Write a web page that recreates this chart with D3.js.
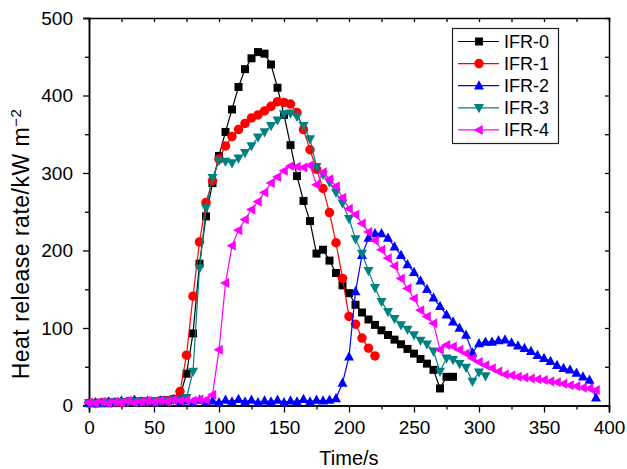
<!DOCTYPE html>
<html>
<head>
<meta charset="utf-8">
<script src="https://cdn.jsdelivr.net/npm/d3@7/dist/d3.min.js"></script>
<style>
html,body{margin:0;padding:0;background:#fff;}
svg{display:block;font-family:"Liberation Sans",Arial,sans-serif;}
</style>
</head>
<body>
<svg id="chart" width="627" height="469"></svg>
<script>
const seriesNames = ["IFR-0","IFR-1","IFR-2","IFR-3","IFR-4"];
const seriesColors = ["#000000","#ff0000","#0000ff","#008080","#ff00ff"];
const seriesSymbols = ["square","circle","triUp","triDown","triLeft"];

const t0 = [0,5,10,15,20,25,30,35,40,45,50,55,60,65,70,75,80,85,90,95,100,105,110,115,120,125,130,135,140,145,150,155,160,165,170,175,180,185,190,195,200,205,210,215,220,225,230,235,240,245,250,255,260,265,270,275,280];
const v0 = [3,3,3,3,4,4,4,5,5,5,5,6,7,8,12,41,93,183,244,287,322,353,382,411,434,448,456,454,440,410,375,336,296,264,238,196,201,187,171,155,145,130,120,111,104,97,91,85,79,73,67,60,54,46,22,37,37];

const t1 = [0,5,10,15,20,25,30,35,40,45,50,55,60,65,70,75,80,85,90,95,100,105,110,115,120,125,130,135,140,145,150,155,160,165,170,175,180,185,190,195,200,205,210,215,220];
const v1 = [3,3,4,4,4,4,5,5,5,5,5,6,6,8,18,65,141,211,262,290,318,335,347,356,364,371,375,380,386,392,391,389,378,356,330,305,280,249,210,164,115,105,87,74,64];

const t2 = [0,5,10,15,20,25,30,35,40,45,50,55,60,65,70,75,80,85,90,95,100,105,110,115,120,125,130,135,140,145,150,155,160,165,170,175,180,185,190,195,200,205,210,215,220,225,230,235,240,245,250,255,260,265,270,275,280,285,290,295,300,305,310,315,320,325,330,335,340,345,350,355,360,365,370,375,380,385,390];
const v2 = [3,4,3,5,4,6,5,7,5,6,4,6,5,7,5,6,4,7,5,6,4,7,5,8,5,7,4,6,5,7,4,6,5,8,5,7,6,7,9,29,63,147,194,216,222,222,216,205,194,182,172,161,150,139,128,117,108,100,91,68,80,82,82,84,85,81,77,74,70,65,61,57,52,48,46,42,37,33,10];

const t3 = [0,5,10,15,20,25,30,35,40,45,50,55,60,65,70,75,80,85,90,95,100,105,110,115,120,125,130,135,140,145,150,155,160,165,170,175,180,185,190,195,200,205,210,215,220,225,230,235,240,245,250,255,260,265,270,275,280,285,290,295,300,305];
const v3 = [3,3,4,4,4,5,5,5,5,6,6,6,6,7,7,10,44,177,255,294,316,315,313,319,326,335,346,353,361,368,376,377,373,361,344,308,298,288,275,261,241,215,196,174,152,134,121,112,104,98,91,84,79,70,44,61,59,54,49,31,43,38];

const t4 = [0,5,10,15,20,25,30,35,40,45,50,55,60,65,70,75,80,85,90,95,100,105,110,115,120,125,130,135,140,145,150,155,160,165,170,175,180,185,190,195,200,205,210,215,220,225,230,235,240,245,250,255,260,265,270,275,280,285,290,295,300,305,310,315,320,325,330,335,340,345,350,355,360,365,370,375,380,385,390];
const v4 = [4,3,5,3,5,4,6,4,5,6,5,6,5,7,6,7,6,8,7,14,72,158,206,226,240,253,263,275,287,295,303,309,308,307,310,285,301,292,283,268,254,246,235,224,213,201,190,180,164,151,138,123,115,106,72,78,76,72,67,61,56,52,48,44,40,39,37,36,35,34,33,31,30,28,26,25,23,22,20];

const xTicks = [0,50,100,150,200,250,300,350,400];
const yTicks = [0,100,200,300,400,500];
const xTitle = "Time/s";
const yTitle = "Heat release rate/kW m";
const yTitleSup = "\u22122";

const allT = [t0,t1,t2,t3,t4];
const allV = [v0,v1,v2,v3,v4];

const W = 627, H = 469;
const m = {left: 89, right: 18, top: 18, bottom: 63.5};
const svg = d3.select("#chart");
const x = d3.scaleLinear().domain([0,400]).range([m.left, W - m.right]);
const y = d3.scaleLinear().domain([0,500]).range([H - m.bottom, m.top]);

// axes
const fs = 19;
const gx = svg.append("g").attr("transform", `translate(0,${y(0)})`)
  .call(d3.axisBottom(x).tickValues(xTicks).tickSize(7).tickPadding(8).tickFormat(d3.format("d")));
const gxm = svg.append("g").attr("transform", `translate(0,${y(0)})`)
  .call(d3.axisBottom(x).tickValues(d3.range(25,400,50)).tickSize(4).tickFormat(""));
const gy = svg.append("g").attr("transform", `translate(${x(0)},0)`)
  .call(d3.axisLeft(y).tickValues(yTicks).tickSize(6).tickPadding(10).tickFormat(d3.format("d")));
const gym = svg.append("g").attr("transform", `translate(${x(0)},0)`)
  .call(d3.axisLeft(y).tickValues(d3.range(50,500,100)).tickSize(4).tickFormat(""));
const gt = svg.append("g").attr("transform", `translate(0,${y(500)})`)
  .call(d3.axisBottom(x).tickValues(d3.range(0,401,25)).tickSize(4).tickFormat(""));
const gr = svg.append("g").attr("transform", `translate(${x(400)},0)`)
  .call(d3.axisLeft(y).tickValues(d3.range(0,501,50)).tickSize(4).tickFormat(""));
[gx,gxm,gy,gym,gt,gr].forEach(g => {
  g.selectAll(".domain").attr("stroke","#000").attr("stroke-width",1.5);
  g.selectAll(".tick line").attr("stroke","#000").attr("stroke-width",1.3);
  g.selectAll("text").attr("fill","#000").style("font-size", fs+"px").style("font-family","'Liberation Sans',Arial,sans-serif");
});
gt.selectAll(".tick").filter(d => d === 0 || d === 400).remove();
gr.selectAll(".tick").filter(d => d === 0 || d === 500).remove();

// titles
svg.append("text").attr("x", x(200)).attr("y", 465).attr("text-anchor","middle")
  .style("font-size","20px").attr("fill","#000").text(xTitle);
const yt = svg.append("text").attr("transform", `translate(29,244) rotate(-90)`)
  .attr("text-anchor","middle").style("font-size","23px").style("letter-spacing","0.5px").attr("fill","#000");
yt.append("tspan").text(yTitle);
yt.append("tspan").attr("dy",-8).style("font-size","15px").text(yTitleSup);

// symbol generator
function symPath(type, s) {
  const h = s/2;
  if (type === "square") return `M${-h},${-h}H${h}V${h}H${-h}Z`;
  if (type === "circle") return d3.symbol(d3.symbolCircle, Math.PI*h*h)();
  if (type === "triUp") return `M0,${-h*1.1}L${h},${h*0.75}L${-h},${h*0.75}Z`;
  if (type === "triDown") return `M0,${h*1.1}L${h},${-h*0.75}L${-h},${-h*0.75}Z`;
  if (type === "triLeft") return `M${-h*1.1},0L${h*0.75},${-h}L${h*0.75},${h}Z`;
}
const symSize = [8, 9.5, 10, 10, 10];

const plot = svg.append("g");
const line = d3.line().x(d => x(d[0])).y(d => y(d[1]));
seriesNames.forEach((name, i) => {
  const pts = allT[i].map((t, k) => [t, allV[i][k]]);
  const g = plot.append("g");
  g.append("path").attr("d", line(pts)).attr("fill","none")
    .attr("stroke", seriesColors[i]).attr("stroke-width", 1.2);
  g.selectAll("path.m").data(pts).enter().append("path").attr("class","m")
    .attr("transform", d => `translate(${x(d[0])},${y(d[1])})`)
    .attr("d", symPath(seriesSymbols[i], symSize[i]))
    .attr("fill", seriesColors[i]);
});

// legend
const lg = svg.append("g");
lg.append("rect").attr("x",452.5).attr("y",28.5).attr("width",106).attr("height",115)
  .attr("fill","#fff").attr("stroke","#222").attr("stroke-width",1.2);
seriesNames.forEach((name, i) => {
  const cy = 41.5 + i*22.1;
  lg.append("line").attr("x1",458).attr("x2",499).attr("y1",cy).attr("y2",cy)
    .attr("stroke",seriesColors[i]).attr("stroke-width",1.2);
  lg.append("path").attr("transform",`translate(479,${cy})`)
    .attr("d", symPath(seriesSymbols[i], symSize[i])).attr("fill",seriesColors[i]);
  lg.append("text").attr("x",504).attr("y",cy+6.5).style("font-size","18px").attr("fill","#000").text(name);
});
</script>
</body>
</html>
